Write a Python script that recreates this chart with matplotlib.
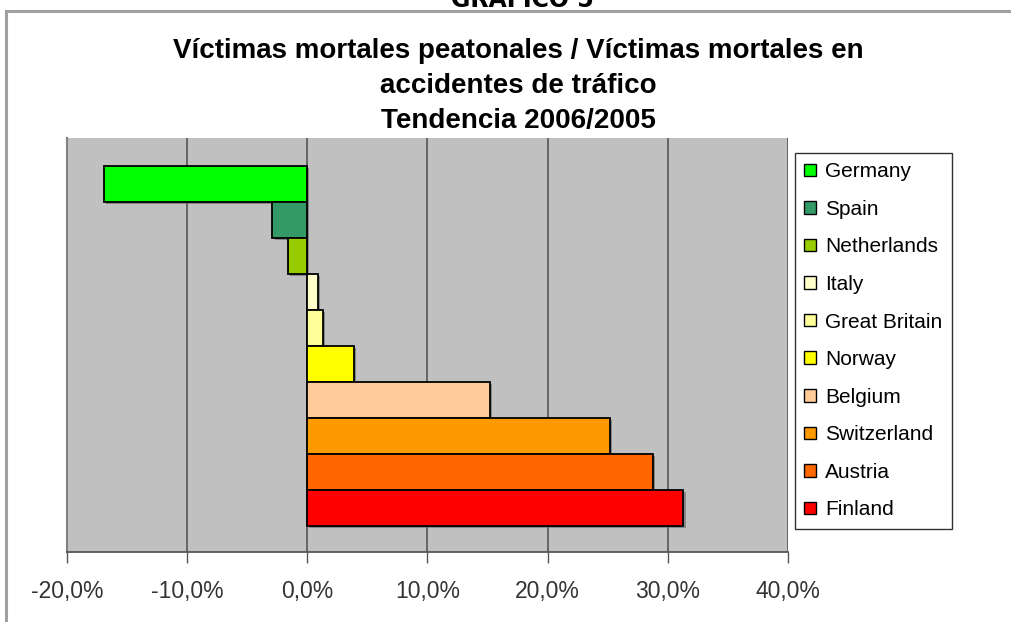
import matplotlib
matplotlib.use("Agg")
import matplotlib.pyplot as plt
import matplotlib.patches as patches
import matplotlib.patheffects as pe
from matplotlib.ticker import FuncFormatter, MultipleLocator

countries = ["Germany", "Spain", "Netherlands", "Italy", "Great Britain",
             "Norway", "Belgium", "Switzerland", "Austria", "Finland"]
values = [-16.9, -2.9, -1.6, 0.9, 1.3, 3.9, 15.2, 25.2, 28.8, 31.3]
colors = ["#00FF00", "#339966", "#99CC00", "#FFFFCC", "#FFFF99",
          "#FFFF00", "#FFCC99", "#FF9900", "#FF6600", "#FF0000"]

title = ("Víctimas mortales peatonales / Víctimas mortales en\n"
         "accidentes de tráfico\nTendencia 2006/2005")

plt.rcParams['font.family'] = ['Liberation Sans', 'DejaVu Sans']

W, H = 1012, 622
fig = plt.figure(figsize=(W / 100, H / 100), dpi=100)

# outer frame of the chart object
frame = patches.Rectangle((6 / W, -0.1), 1.1, 1 - 11 / H + 0.1,
                          transform=fig.transFigure, fill=False,
                          edgecolor="#A0A0A0", linewidth=2.2)
fig.patches.append(frame)

# heading above the frame (cut at the top in the original)
fig.text(522 / W, 1 - 7 / H, "GRÁFICO 5", ha="center", va="baseline",
         fontsize=17, weight="bold", family="DejaVu Sans")

ax = fig.add_axes([67 / W, 1 - 552 / H, (788 - 67) / W, (552 - 138) / H])
ax.set_facecolor("#C0C0C0")

shadow = [pe.SimplePatchShadow(offset=(1.5, -1.5), shadow_rgbFace="#606060", alpha=0.6),
          pe.Normal()]
for i, (c, v, col) in enumerate(zip(countries, values, colors)):
    ax.barh(i, v, height=1.0, color=col, edgecolor="black", linewidth=1.3,
            label=c, zorder=3, path_effects=shadow)

ax.set_xlim(-20, 40)
ax.set_ylim(10.22, -1.28)
ax.xaxis.set_major_locator(MultipleLocator(10))
ax.xaxis.set_major_formatter(FuncFormatter(lambda x, p: f"{x:.1f}%".replace(".", ",")))
ax.grid(axis="x", color="#555555", linewidth=1.2, zorder=1)
ax.set_yticks([])
ax.tick_params(axis="x", direction="out", length=8, width=1, color="#555555",
               labelsize=16.5, labelcolor="#333333", pad=12)
for s in ["top", "right"]:
    ax.spines[s].set_visible(False)
ax.spines["left"].set_color("#808080")
ax.spines["left"].set_linewidth(1.5)
ax.spines["bottom"].set_color("#555555")
ax.spines["bottom"].set_linewidth(1.3)

fig.text(518 / W, 1 - 128 / H, title, ha="center", va="baseline",
         fontsize=20, weight="bold", linespacing=1.45)

handles, labels = ax.get_legend_handles_labels()
leg = fig.legend(handles, labels, loc="upper left",
                 bbox_to_anchor=(795 / W, 1 - 153 / H), bbox_transform=fig.transFigure,
                 fontsize=15, frameon=True, fancybox=False, edgecolor="black",
                 handlelength=0.55, handleheight=0.55, handletextpad=0.45,
                 labelspacing=0.89, borderpad=0.45, borderaxespad=0)
leg.get_frame().set_linewidth(1.0)
for h in leg.legend_handles:
    h.set_path_effects([])
    h.set_linewidth(1.0)

fig.savefig("out.png", dpi=100)
